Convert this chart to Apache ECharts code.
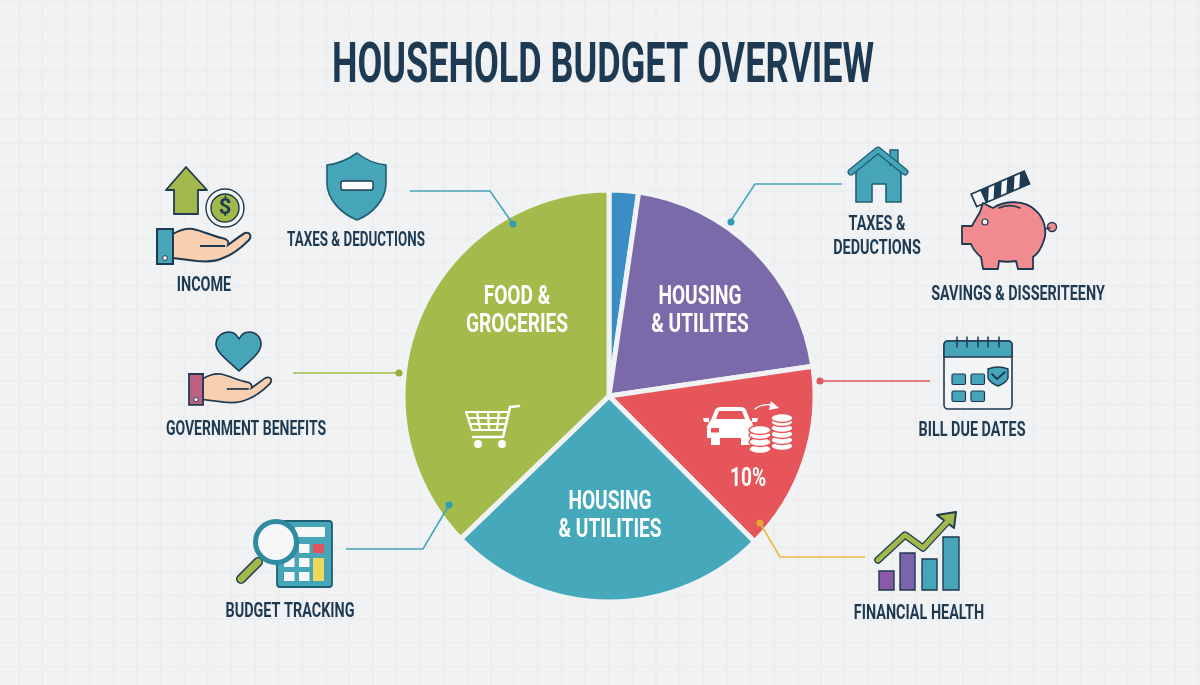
<!DOCTYPE html>
<html>
<head>
<meta charset="utf-8">
<title>Household Budget Overview</title>
<style>
  html, body { margin: 0; padding: 0; }
  body {
    width: 1200px; height: 685px; overflow: hidden;
    background-color: #f1f2f3;
    background-image:
      linear-gradient(to right, #ebedee 1.5px, transparent 1.5px),
      linear-gradient(to bottom, #ebedee 1.5px, transparent 1.5px);
    background-size: 23.6px 23.8px;
    background-position: 18px 23px;
  }
  #main { width: 1200px; height: 685px; }
</style>
<script src="https://cdn.jsdelivr.net/npm/echarts@6/dist/echarts.min.js"></script>
</head>
<body>
<div id="main"></div>
<script>
// data
var sliceValues = [2.3, 20.4, 14.8, 25.3, 37.2];
var sliceNames = ['Other', 'Housing & Utilites', 'Transport', 'Housing & Utilities', 'Food & Groceries'];
var sliceLabels = ['', 'HOUSING\n& UTILITES', '10%', 'HOUSING\n& UTILITIES', 'FOOD &\nGROCERIES'];
var sliceColors = ['#3b8ec4', '#7b6aa9', '#e5555a', '#46a9bb', '#a3bb4b'];
var titleText = 'HOUSEHOLD BUDGET OVERVIEW';
var calloutTexts = ['INCOME', 'TAXES & DEDUCTIONS', 'GOVERNMENT BENEFITS', 'BUDGET TRACKING',
  'TAXES &\nDEDUCTIONS', 'SAVINGS & DISSERITEENY', 'BILL DUE DATES', 'FINANCIAL HEALTH'];

var FONT = 'Roboto, "Liberation Sans", sans-serif';
var DARK = '#1e3a52';
var TEAL = '#46a5b9';
var GREEN = '#a0b94a';
var BG = '#f1f2f3';

var calloutPos = [[204, 286], [356, 241], [246, 430], [290, 612], [877, 237], [1018, 295], [972, 431], [919, 614]];
var calloutScale = [0.72, 0.67, 0.7, 0.72, 0.72, 0.72, 0.72, 0.72];
var sliceLabelPos = [[0, 0], [700, 312], [748, 480], [610, 517], [517, 312]];

var els = [];
var pathCount = 0;

function add(o) {
  o.z = 10;
  els.push(o);
}
// graphic has no plain path type, so each svg string gets its own shape class
function path(d, fill, stroke, w) {
  var name = 'iconPath' + (pathCount++);
  echarts.graphic.registerShape(name, echarts.graphic.extendPath(d, {}));
  add({ type: name, style: { fill: fill || 'none', stroke: stroke || 'none', lineWidth: w || 0, lineCap: 'round', lineJoin: 'round' } });
}
function rect(x, y, w, h, fill, stroke, lw, r) {
  add({ type: 'rect', shape: { x: x, y: y, width: w, height: h, r: r || 0 }, style: { fill: fill, stroke: stroke || 'none', lineWidth: lw || 0 } });
}
function circle(x, y, r, fill, stroke, lw) {
  add({ type: 'circle', shape: { cx: x, cy: y, r: r }, style: { fill: fill, stroke: stroke || 'none', lineWidth: lw || 0 } });
}
function leader(points, color) {
  add({ type: 'polyline', shape: { points: points }, style: { stroke: color, lineWidth: 1.6, fill: 'none' } });
}
// the reference lettering is condensed and no narrow font is installed
function narrowText(x, y, t, size, sx, color, lh) {
  add({
    type: 'text', x: x, y: y, scaleX: sx,
    style: { text: t, fill: color, font: 'bold ' + size + 'px ' + FONT, align: 'center', verticalAlign: 'middle', lineHeight: lh }
  });
}

// hand holding something, drawn at the income icon size
var handPath = 'M16 5 C23 1 29 -1 36 0 C46 2 55 7 65 9 C71 10 72 13 71 16 C78 11 84 6 88 4 C93 3 95 7 92 11 C84 19 75 26 66 29 C58 33 50 33 40 32 C32 31 24 30 16 29 Z';
echarts.graphic.registerShape('handShape', echarts.graphic.extendPath(handPath, {}));
function hand(x, y, s, cuff) {
  add({
    type: 'group', x: x, y: y, scaleX: s, scaleY: s,
    children: [
      { type: 'handShape', style: { fill: '#f8cfb0', stroke: DARK, lineWidth: 2 } },
      { type: 'polyline', shape: { points: [[43, 17], [68, 17]] }, style: { stroke: DARK, lineWidth: 2, fill: 'none' } },
      { type: 'rect', shape: { x: 0, y: 0, width: 16, height: 35 }, style: { fill: cuff, stroke: DARK, lineWidth: 2 } },
      { type: 'circle', shape: { cx: 8, cy: 29, r: 2.4 }, style: { fill: '#fff', stroke: DARK, lineWidth: 1 } }
    ]
  });
}

// income
path('M186 167 L207 190 L198 190 L198 214 L174 214 L174 190 L166 190 Z', GREEN, DARK, 1.8);
circle(225, 208, 19, '#f6f7f8', DARK, 1.4);
circle(225, 208, 14, GREEN, DARK, 1.4);
add({ type: 'text', style: { x: 225, y: 208, text: '$', fill: DARK, font: 'bold 22px ' + FONT, align: 'center', verticalAlign: 'middle' } });
hand(157, 229, 1, TEAL);

// shield
path('M357 153 C346 161 337 164 327 165 L327 183 C327 200 342 214 357 220 C372 214 386 200 386 183 L386 165 C376 164 367 161 357 153 Z', TEAL, '#1f5f73', 1.6);
rect(341, 181, 32, 9, '#fff', DARK, 1.4, 2);

// government benefits
path('M239 371 C225 358 216 352 216 344 C216 336 223 332 229 332 C234 332 237 335 239 339 C241 335 244 332 249 332 C255 332 261 336 261 344 C261 352 253 358 239 371 Z', TEAL, DARK, 1.6);
hand(189, 374, 0.88, '#bd5f82');

// calculator and magnifier
rect(277, 521, 55, 66, TEAL, '#1f5f73', 1.8, 3);
rect(295, 527, 30, 10, '#f6f7f8', null, 0, 1);
var calcX = [284, 299, 313];
var calcY = [544, 558, 572];
calcY.forEach(function (y, i) {
  calcX.forEach(function (x, j) {
    if (j == 2 && i > 0) return;
    rect(x, y, j == 2 ? 11 : 10.5, 9, j == 2 ? '#e5535a' : '#f6f7f8');
  });
});
rect(313, 558, 11, 23, '#f0d95a');
path('M258 562 L241 579', 'none', DARK, 10);
path('M258 562 L241 579', 'none', GREEN, 7);
circle(276, 542, 20.5, '#f6f7f8', '#2f8ba1', 5);

// house
path('M856 170 L878 152 L901 170 L901 202 L886 202 L886 184 L872 184 L872 202 L856 202 Z', TEAL, '#1f5f73', 1.6);
rect(890, 150, 8, 15, TEAL, '#1f5f73', 1.4);
path('M851 172 L878 150 L905 172', 'none', '#1f5f73', 7);
path('M851 172 L878 150 L905 172', 'none', TEAL, 4.5);

// piggy bank
circle(1052, 227, 4.5, '#f28b90', DARK, 1.4);
path('M1044 229 L1050 228', 'none', DARK, 1.4);
path('M962 226 L972 226 C975 220 978 216 980 212 L983 203 C987 205 990 207 993 208 C1005 200 1025 200 1035 210 C1045 218 1047 232 1044 240 C1041 250 1036 255 1033 257 L1033 269 L1018 269 L1016 261 C1010 262 1004 262 999 261 L998 269 L983 269 L981 257 C976 253 973 249 971 244 L962 244 Z', '#f28b90', DARK, 1.8);
circle(985, 222, 3, '#f6f7f8', DARK, 1.2);
path('M999 208 C1006 205 1014 205 1020 208', 'none', DARK, 1.6);
add({
  type: 'group', x: 971, y: 194, rotation: 0.408,
  children: [
    { type: 'rect', shape: { x: 0, y: 0, width: 58, height: 14 }, style: { fill: DARK, stroke: DARK, lineWidth: 1.4 } },
    { type: 'rect', shape: { x: 1, y: 1, width: 9, height: 12 }, style: { fill: '#f6f7f8' } },
    { type: 'polygon', shape: { points: [[19, 1], [25, 1], [19, 13], [13, 13]] }, style: { fill: '#f6f7f8' } },
    { type: 'polygon', shape: { points: [[33, 1], [39, 1], [33, 13], [27, 13]] }, style: { fill: '#f6f7f8' } },
    { type: 'polygon', shape: { points: [[47, 1], [53, 1], [47, 13], [41, 13]] }, style: { fill: '#f6f7f8' } }
  ]
});

// calendar
rect(944, 341, 68, 68, '#f3f4f6', DARK, 1.6, 4);
path('M944 357 L944 345 Q944 341 948 341 L1008 341 Q1012 341 1012 345 L1012 357 Z', TEAL, DARK, 1.4);
[957, 967, 978, 988, 999].forEach(function (x) {
  path('M' + x + ' 337 L' + x + ' 347', 'none', DARK, 1.5);
});
[[952, 374], [971, 374], [952, 391], [971, 391]].forEach(function (p) {
  rect(p[0], p[1], 13.5, 10.5, TEAL, DARK, 1.2, 1.5);
});
path('M988 369 Q998 365 1008 369 L1008 378 Q1006 383 998 386 Q990 383 988 378 Z', TEAL, DARK, 1.4);
path('M992 374 L997 379 L1005 372', 'none', DARK, 1.8);

// financial health
rect(879, 571, 15, 19, '#8a5aa8', DARK, 1.4);
rect(900, 553, 15, 37, '#7b64aa', DARK, 1.4);
rect(922, 559, 15, 31, TEAL, DARK, 1.4);
rect(943, 537, 16, 53, TEAL, DARK, 1.4);
path('M878 560 L905 535 L923 548 L947 522', 'none', DARK, 7.5);
path('M937 515 L956 512 L954 528 Z', GREEN, DARK, 2);
path('M878 560 L905 535 L923 548 L948 521', 'none', GREEN, 5);

// cart inside the green slice
path('M519 406 L510 407 L503 437 L473 437', 'none', '#fff', 2.6);
path('M466 412 L508 412 M472 430 L505 430 M466 412 L472 430 M468 418 L507 418 M470 424 L505.5 424 M477 412 L480 430 M488 412 L489 430 M499 412 L497 430', 'none', '#fff', 2.2);
circle(478, 444, 4, '#fff');
circle(502, 444, 4, '#fff');

// car and coins inside the red slice
path('M707 427 C708 423 710 421 711 420 L715 410 C716 408 718 407 720 407 L741 407 C743 407 745 408 746 410 L750 420 C752 421 753 424 753 427 L753 438 L750 438 L750 445 L741 445 L741 438 L720 438 L720 445 L711 445 L711 438 L707 438 Z', '#fff');
path('M703 418 L709 418 L709 422 L704 422 Z M752 418 L758 418 L757 422 L752 422 Z', '#fff');
path('M716 419 L719 411 L742 411 L745 419 Z', '#e5555a');
rect(711, 428, 8, 4.5, '#e5555a');
[[760, 449], [760, 442], [760, 435], [760, 430]].forEach(function (c) {
  add({ type: 'ellipse', shape: { cx: c[0], cy: c[1], rx: 11, ry: 4.5 }, style: { fill: '#fff', stroke: '#e5555a', lineWidth: 1.4 } });
});
[[782, 446], [782, 440], [782, 434], [782, 428], [782, 422], [782, 418]].forEach(function (c) {
  add({ type: 'ellipse', shape: { cx: c[0], cy: c[1], rx: 11, ry: 4.5 }, style: { fill: '#fff', stroke: '#e5555a', lineWidth: 1.4 } });
});
path('M755 409 C760 405 766 404 772 405', 'none', '#fff', 1.4);
path('M771 401 L779 408 L769 410 Z', '#fff');

// leader lines
leader([[410, 191], [490, 191], [513, 224]], TEAL);
circle(513, 224, 3.5, '#2f9db2');
leader([[293, 373], [399, 373]], '#a3bb4b');
circle(399, 373, 3.5, '#94ad3f');
leader([[346, 549], [423, 549], [449, 505]], TEAL);
circle(449, 505, 3.5, '#2f9db2');
leader([[842, 184], [755, 184], [730, 222]], TEAL);
circle(731, 222, 3.5, '#2f9db2');
leader([[930, 381], [821, 381]], '#e5555a');
circle(820, 381, 3.5, '#e5555a');
leader([[865, 557], [780, 557], [760, 523]], '#efb93e');
circle(760, 523, 3.5, '#e9a531');

// text
narrowText(603, 68, titleText, 55, 0.655, DARK);
calloutTexts.forEach(function (t, i) {
  narrowText(calloutPos[i][0], calloutPos[i][1], t, 20, calloutScale[i], DARK, 24);
});
sliceLabels.forEach(function (t, i) {
  if (t) narrowText(sliceLabelPos[i][0], sliceLabelPos[i][1], t, 25, 0.765, '#fff', 28);
});

var pieData = sliceValues.map(function (v, i) {
  return { value: v, name: sliceNames[i], itemStyle: { color: sliceColors[i] } };
});

var myChart = echarts.init(document.getElementById('main'));
var option = {
  animation: false,
  series: [{
    type: 'pie',
    center: [609, 396],
    radius: [0, 206],
    startAngle: 90,
    clockwise: true,
    silent: true,
    itemStyle: { borderColor: BG, borderWidth: 5 },
    label: { show: false },
    labelLine: { show: false },
    data: pieData
  }],
  graphic: { elements: els }
};
myChart.setOption(option);
</script>
</body>
</html>
